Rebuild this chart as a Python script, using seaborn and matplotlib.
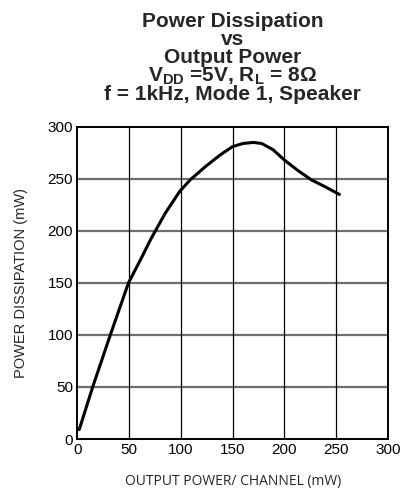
import pandas as pd
import seaborn as sns
import matplotlib.pyplot as plt

# values
out_power = [2, 15, 32, 49.5, 62, 71, 85, 99, 109, 124, 138, 150, 160, 170, 178, 189, 200, 213, 226, 240, 253]
dissipation = [9, 50, 100, 150, 174, 192, 217, 238, 249, 262, 273, 281, 284, 285, 284, 278, 268, 258, 249, 242, 235]
x_ticks = [0, 50, 100, 150, 200, 250, 300]
y_ticks = [0, 50, 100, 150, 200, 250, 300]

df = pd.DataFrame({"out": out_power, "pd": dissipation})

sns.set_style("white")
plt.rcParams["font.family"] = ["Liberation Sans", "DejaVu Sans"]
plt.rcParams["mathtext.fontset"] = "custom"
plt.rcParams["mathtext.rm"] = "Liberation Sans"
plt.rcParams["mathtext.bf"] = "Liberation Sans:bold"

fig = plt.figure(figsize=(4.06, 4.94), dpi=100)
ax = fig.add_axes([0.19, 0.1113, 0.766, 0.632])

sns.lineplot(data=df, x="out", y="pd", sort=False, estimator=None,
             color="black", linewidth=2.2, ax=ax)

ax.set_xlim(0, 300)
ax.set_ylim(0, 300)
ax.set_xticks(x_ticks)
ax.set_yticks(y_ticks)
ax.tick_params(length=0, labelsize=11, pad=3, colors="black")

# horizontal grid grey and heavier, vertical grid black and thin
for y in y_ticks[1:-1]:
    ax.axhline(y, color="#6e6e6e", linewidth=1.6, zorder=0)
for x in x_ticks[1:-1]:
    ax.axvline(x, color="black", linewidth=0.9, zorder=0)
for s in ax.spines.values():
    s.set_color("black")
    s.set_linewidth(1.4)

ax.set_xlabel("OUTPUT POWER/ CHANNEL (mW)", fontsize=10, family=["Open Sans", "DejaVu Sans"], labelpad=12)
ax.set_ylabel("POWER DISSIPATION (mW)", fontsize=10.5, labelpad=14)

title = ("Power Dissipation\nvs\nOutput Power\n"
         r"$\mathbf{V_{DD}}$ =5V, $\mathbf{R_L}$ = 8Ω" "\n"
         "f = 1kHz, Mode 1, Speaker")
ax.set_title(title, fontsize=15, fontweight="bold", linespacing=0.92, pad=19)

fig.savefig("out.png", dpi=100)
